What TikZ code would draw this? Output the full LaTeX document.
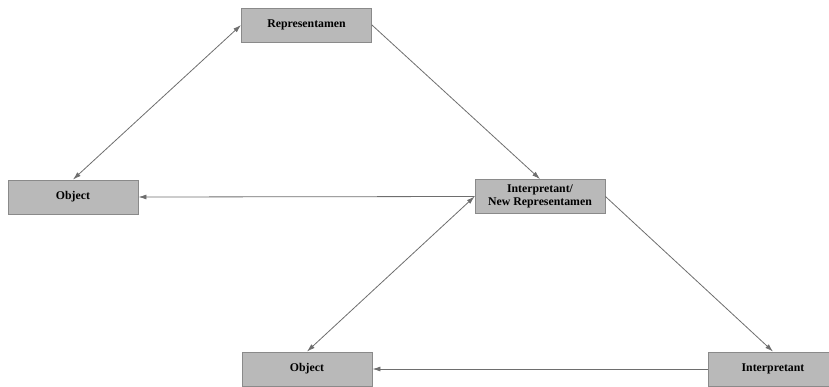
\documentclass[tikz,border=0pt]{standalone}
\usepackage{fontspec}
\setmainfont{Liberation Serif}
\usepackage{xcolor}
\usepackage{tikz}
\usetikzlibrary{arrows.meta}
\definecolor{boxfill}{HTML}{B9B9B9}
\definecolor{boxline}{HTML}{8A8A8A}
\definecolor{edgegray}{HTML}{6E6E6E}

\begin{document}
\begin{tikzpicture}[x=1pt,y=-1pt,
    sign/.style={draw=boxline,fill=boxfill,line width=0.9pt,minimum width=130pt,
      minimum height=34pt,inner sep=0pt,align=center,font=\fontsize{11.8}{12.5}\selectfont\bfseries},
    rel/.style={edgegray,line width=0.8pt,-{Latex[length=8pt,width=5pt]}},
    both/.style={rel,{Latex[length=8pt,width=5pt]}-{Latex[length=8pt,width=5pt]}}]
  \useasboundingbox (0,0) rectangle (829,386);
  \clip (0,0) rectangle (829,386);
  % first triad
  \node[sign] (rep) at (306.5,25){Representamen};
  \node[sign] (obj) at (73,197){Object};
  \node[sign] (int) at (540,196.5){Interpretant/\\New Representamen};
  % second triad
  \node[sign] (obj2) at (307,369){Object};
  \node[sign] (int2) at (773,369){Interpretant};
  \draw[both] (rep.west)--(obj.north);
  \draw[rel] (rep.east)--(int.north);
  \draw[rel] (int.west)--(obj.east);
  \draw[both] (int.west)--(obj2.north);
  \draw[rel] (int.east)--(int2.north);
  \draw[rel] (int2.west)--(obj2.east);
\end{tikzpicture}
\end{document}
